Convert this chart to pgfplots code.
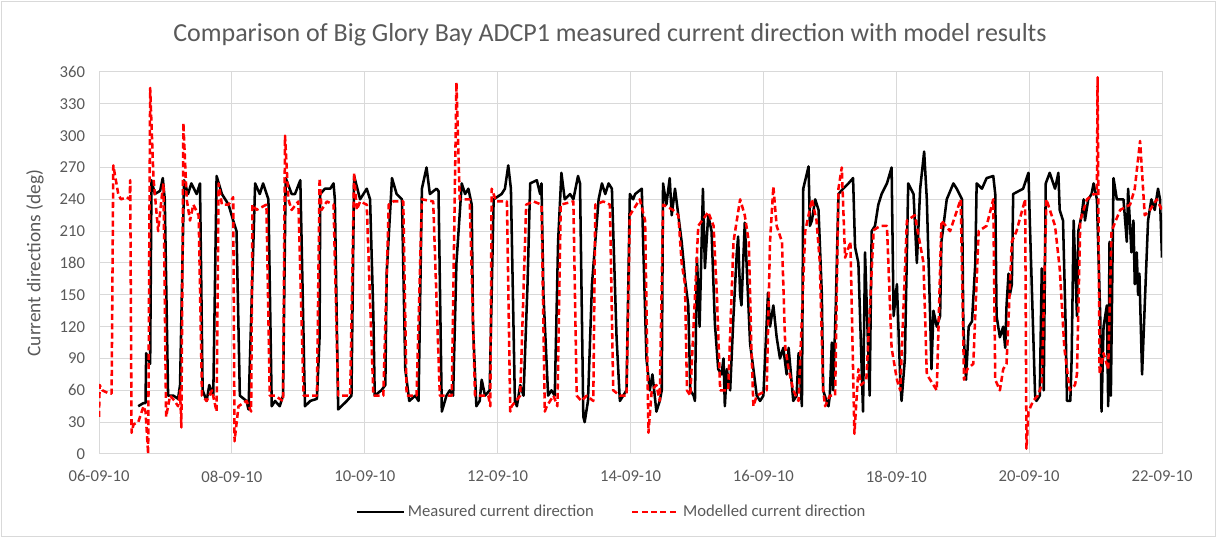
\documentclass[border=0pt]{standalone}
\usepackage{fontspec}
\setmainfont{Carlito}
\usepackage{pgfplots}
\pgfplotsset{compat=1.18}
\definecolor{txt}{HTML}{595959}
\definecolor{gridc}{HTML}{D9D9D9}
\begin{document}
\begin{tikzpicture}
\useasboundingbox (0,0) rectangle (912.75pt,403.5pt);
\draw[color=gridc, line width=0.75pt] (1pt,1pt) rectangle (911.75pt,402.5pt);
\begin{axis}[
 at={(74.25pt,63pt)}, anchor=south west,
 scale only axis, width=797.25pt, height=286.5pt,
 xmin=0, xmax=16, ymin=0, ymax=360,
 xtick={0,2,...,16},
 xticklabels={06-09-10,08-09-10,10-09-10,12-09-10,14-09-10,16-09-10,18-09-10,20-09-10,22-09-10},
 ytick={0,30,...,360},
 grid=major, major grid style={draw=gridc, line width=0.75pt},
 axis line style={draw=gridc, line width=0.75pt},
 major tick length=0pt,
 /pgf/number format/assume math mode=true,
 tick label style={font=\fontsize{12.5}{14}\selectfont, text=txt},
 xticklabel style={yshift=-9pt},
 yticklabel style={xshift=-7pt},
 title={Comparison of Big Glory Bay ADCP1 measured current direction with model results},
 every axis title/.style={at={(0.5,1)}, anchor=center, yshift=28pt, xshift=-15.4pt, font=\fontsize{19.5}{22}\selectfont, text=txt},
 ylabel={Current directions (deg)},
 every axis y label/.style={at={(-0.0602,0.5)}, rotate=90, anchor=center, font=\fontsize{14.5}{16}\selectfont, text=txt},
 legend style={at={(0.4826,-0.152)}, anchor=center, draw=none, fill=none, font=\fontsize{12.5}{14}\selectfont, text=txt, legend columns=2, /tikz/every even column/.append style={column sep=26pt}},
 legend cell align=left,
 legend image code/.code={\draw[#1] (0pt,0pt) -- (35pt,0pt);},
]
\addplot[black, line width=1.9pt, line join=round] coordinates {
(0.59,45) (0.67,48) (0.70,48) (0.71,95) (0.77,85) (0.79,258) (0.84,245) (0.92,248) (0.96,260) (0.99,240) (1.04,55) (1.12,55) (1.19,52) (1.22,65) (1.28,258) (1.34,245) (1.39,255) (1.47,245) (1.52,255) (1.56,60) (1.62,50) (1.66,65) (1.72,55) (1.77,262) (1.85,245) (1.95,235) (2.02,220) (2.07,210) (2.12,55) (2.22,50) (2.25,42) (2.35,255) (2.42,245) (2.47,255) (2.55,240) (2.60,45) (2.65,50) (2.72,45) (2.77,55) (2.81,260) (2.90,245) (2.95,245) (3.03,258) (3.05,200) (3.10,45) (3.18,50) (3.28,52) (3.32,110) (3.33,245) (3.40,250) (3.48,250) (3.53,255) (3.55,240) (3.60,42) (3.73,50) (3.80,55) (3.84,262) (3.93,240) (4.03,250) (4.08,240) (4.13,130) (4.15,55) (4.25,60) (4.31,65) (4.33,170) (4.41,260) (4.48,245) (4.56,240) (4.61,80) (4.67,50) (4.76,55) (4.81,50) (4.86,250) (4.93,270) (4.98,245) (5.08,250) (5.11,248) (5.16,40) (5.23,55) (5.28,60) (5.33,55) (5.38,180) (5.46,255) (5.51,245) (5.56,250) (5.61,235) (5.63,120) (5.68,45) (5.73,50) (5.76,70) (5.81,55) (5.88,60) (5.94,240) (6.06,245) (6.11,250) (6.16,272) (6.20,250) (6.26,50) (6.29,45) (6.34,65) (6.39,55) (6.45,160) (6.49,255) (6.59,258) (6.64,245) (6.66,255) (6.69,150) (6.76,55) (6.81,60) (6.86,55) (6.91,200) (6.96,265) (7.01,240) (7.09,245) (7.14,240) (7.21,262) (7.24,255) (7.29,35) (7.31,30) (7.36,50) (7.42,160) (7.52,240) (7.57,255) (7.62,245) (7.67,255) (7.72,250) (7.79,110) (7.84,50) (7.89,55) (7.94,60) (7.99,245) (8.04,240) (8.07,245) (8.17,250) (8.19,200) (8.24,90) (8.29,60) (8.33,75) (8.39,40) (8.44,50) (8.47,60) (8.49,255) (8.54,235) (8.59,260) (8.62,225) (8.67,250) (8.72,225) (8.77,200) (8.80,180) (8.82,165) (8.87,140) (8.90,60) (8.95,55) (8.97,50) (9.00,185) (9.04,120) (9.09,250) (9.12,175) (9.17,225) (9.22,210) (9.27,123) (9.32,80) (9.37,75) (9.40,90) (9.42,45) (9.45,80) (9.50,60) (9.55,130) (9.60,190) (9.62,205) (9.65,150) (9.67,140) (9.72,218) (9.80,104) (9.85,80) (9.90,55) (9.95,50) (10.00,55) (10.07,152) (10.10,120) (10.15,140) (10.20,110) (10.25,90) (10.30,100) (10.35,75) (10.38,100) (10.45,50) (10.50,55) (10.53,95) (10.58,45) (10.60,250) (10.68,271) (10.70,215) (10.73,220) (10.78,240) (10.83,230) (10.88,150) (10.90,60) (10.95,50) (10.98,45) (11.00,55) (11.03,105) (11.05,60) (11.09,140) (11.13,245) (11.20,250) (11.28,255) (11.35,260) (11.38,195) (11.43,180) (11.50,40) (11.53,190) (11.60,55) (11.63,210) (11.68,215) (11.73,235) (11.78,245) (11.86,255) (11.93,270) (11.96,130) (12.01,160) (12.06,70) (12.08,50) (12.13,90) (12.18,255) (12.26,245) (12.31,180) (12.36,250) (12.42,285) (12.46,240) (12.51,130) (12.53,80) (12.56,135) (12.61,120) (12.66,130) (12.68,200) (12.76,240) (12.86,255) (12.91,250) (12.99,240) (13.01,120) (13.05,70) (13.09,120) (13.14,125) (13.19,180) (13.21,255) (13.29,250) (13.36,260) (13.46,262) (13.49,245) (13.51,130) (13.56,110) (13.61,120) (13.64,100) (13.66,140) (13.69,170) (13.71,150) (13.74,160) (13.76,245) (13.91,250) (13.99,265) (14.01,220) (14.09,55) (14.11,50) (14.16,55) (14.19,175) (14.22,60) (14.25,255) (14.31,265) (14.39,250) (14.44,265) (14.46,230) (14.51,220) (14.55,120) (14.57,50) (14.62,50) (14.64,90) (14.67,220) (14.72,130) (14.74,210) (14.79,225) (14.82,240) (14.84,220) (14.89,240) (14.94,245) (14.97,255) (15.02,240) (15.07,130) (15.09,40) (15.12,120) (15.17,140) (15.19,45) (15.21,200) (15.23,55) (15.27,260) (15.32,240) (15.42,240) (15.47,200) (15.49,250) (15.54,190) (15.57,220) (15.59,160) (15.62,190) (15.64,150) (15.66,170) (15.70,75) (15.74,140) (15.79,220) (15.84,240) (15.89,230) (15.94,250) (15.97,240) (16.00,185)
};
\addlegendentry{Measured current direction}
\addplot[red, line width=1.9pt, line join=round, dash pattern=on 4.5pt off 2.5pt] coordinates {
(0.00,35) (0.01,65) (0.05,60) (0.15,57) (0.19,57) (0.215,272) (0.29,245) (0.33,240) (0.42,242) (0.46,240) (0.47,258) (0.49,20) (0.52,28) (0.59,30) (0.67,45) (0.70,40) (0.74,0) (0.77,345) (0.82,260) (0.89,210) (0.94,240) (0.97,255) (1.01,35) (1.07,55) (1.14,50) (1.19,45) (1.22,60) (1.24,25) (1.27,312) (1.32,240) (1.37,220) (1.42,235) (1.50,225) (1.55,55) (1.62,50) (1.70,60) (1.77,40) (1.80,255) (1.85,235) (1.95,235) (2.02,242) (2.04,12) (2.10,45) (2.22,50) (2.29,40) (2.31,235) (2.37,230) (2.52,235) (2.57,55) (2.65,55) (2.72,52) (2.77,50) (2.80,300) (2.85,240) (2.90,230) (3.00,238) (3.08,55) (3.12,55) (3.28,55) (3.32,260) (3.35,230) (3.43,238) (3.53,235) (3.60,55) (3.78,55) (3.84,265) (3.88,230) (3.93,238) (4.03,235) (4.13,55) (4.28,55) (4.36,235) (4.43,238) (4.58,238) (4.63,55) (4.78,55) (4.86,240) (5.03,238) (5.13,55) (5.31,55) (5.38,350) (5.43,240) (5.58,240) (5.66,55) (5.86,55) (5.89,45) (5.91,250) (5.98,238) (6.14,238) (6.19,40) (6.21,45) (6.34,55) (6.43,235) (6.54,238) (6.66,235) (6.71,40) (6.74,45) (6.84,55) (6.90,45) (6.95,235) (7.14,238) (7.19,55) (7.26,50) (7.34,55) (7.44,50) (7.47,235) (7.59,238) (7.69,235) (7.74,60) (7.84,55) (7.94,55) (7.99,225) (8.14,240) (8.22,220) (8.27,20) (8.32,60) (8.39,65) (8.44,50) (8.49,235) (8.64,230) (8.72,225) (8.77,180) (8.82,160) (8.85,60) (8.90,55) (9.02,215) (9.17,228) (9.25,215) (9.30,150) (9.35,60) (9.47,60) (9.55,200) (9.65,240) (9.72,225) (9.78,200) (9.82,100) (9.85,45) (9.90,55) (10.05,60) (10.10,200) (10.15,252) (10.20,215) (10.28,200) (10.33,100) (10.38,80) (10.45,60) (10.53,50) (10.63,210) (10.73,240) (10.80,220) (10.85,180) (10.90,60) (10.93,45) (11.00,55) (11.08,55) (11.13,250) (11.18,270) (11.23,185) (11.31,200) (11.37,19) (11.43,80) (11.47,65) (11.55,70) (11.66,211) (11.76,215) (11.86,215) (11.93,100) (12.01,70) (12.06,60) (12.16,220) (12.28,225) (12.41,180) (12.46,75) (12.56,65) (12.61,60) (12.68,220) (12.81,210) (12.97,240) (13.02,70) (13.07,80) (13.16,85) (13.24,210) (13.36,215) (13.46,240) (13.49,70) (13.56,60) (13.61,80) (13.66,85) (13.74,200) (13.81,210) (13.94,240) (13.96,5) (13.99,40) (14.06,50) (14.13,55) (14.19,65) (14.26,240) (14.39,215) (14.46,175) (14.53,100) (14.61,60) (14.69,65) (14.72,75) (14.77,220) (14.87,240) (14.97,245) (15.02,245) (15.03,355) (15.06,75) (15.12,95) (15.19,80) (15.24,210) (15.37,230) (15.52,235) (15.59,250) (15.67,295) (15.74,225) (15.82,230) (15.92,240) (16.00,230)
};
\addlegendentry{Modelled current direction}
\end{axis}
\end{tikzpicture}
\end{document}
